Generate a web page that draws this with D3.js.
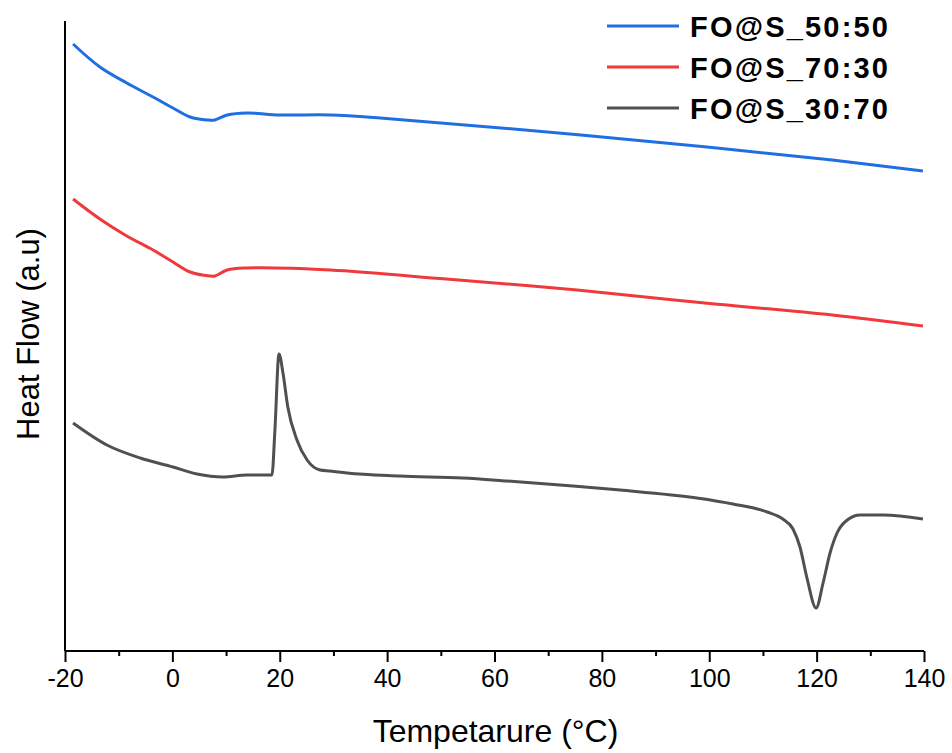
<!DOCTYPE html>
<html>
<head>
<meta charset="utf-8">
<script src="https://cdn.jsdelivr.net/npm/d3@7"></script>
<style>
  body { margin: 0; background: #fff; }
  svg { font-family: Arial, "Liberation Sans", sans-serif; }
</style>
</head>
<body>
<svg width="952" height="753"></svg>
<script>
// temperature (°C) / heat flow (a.u.)
var blueX = [-18.5, -13.5, -8.5, -3.6, 0.1, 3.3, 6.5, 7.9, 10.2, 13.9, 20, 29.4, 38.7, 76.1, 101.4, 122.9, 139.8];
var blueY = [60.7, 58.4, 56.8, 55.4, 54.3, 53.4, 53.1, 53.1, 53.6, 53.8, 53.6, 53.6, 53.3, 51.6, 50.3, 49.1, 48.0];

var redX = [-18.5, -13.5, -8.5, -3.6, 0.1, 3.3, 7.0, 7.9, 10.2, 13.9, 29.4, 51.0, 75.4, 99.2, 122.9, 139.8];
var redY = [45.2, 43.2, 41.5, 40.1, 38.9, 37.9, 37.5, 37.5, 38.1, 38.3, 38.1, 37.2, 36.1, 34.8, 33.6, 32.5];

var greyX = [-18.5, -12.2, -6.0, 0.1, 4.6, 9.4, 13.9, 18.55, 19.1, 19.86, 20.6, 21.5, 23.2, 25.1, 27.5, 29.4, 32.5, 42.4,
  54.1, 62.3, 74.6, 83.4, 97.7, 104.4, 110.8, 113.7, 115.6, 116.9, 118.2, 119.9, 121.2, 122.5, 123.8, 125.7, 128.1, 132.4, 139.8];
var greyY = [22.8, 20.6, 19.3, 18.4, 17.7, 17.4, 17.6, 17.6, 22.1, 29.7, 27.8, 24.4, 21.1, 19.1, 18.1, 18.0, 17.8, 17.5,
  17.3, 17.0, 16.5, 16.1, 15.3, 14.7, 13.9, 13.2, 12.2, 10.4, 7.3, 4.3, 6.8, 9.8, 11.8, 13.1, 13.6, 13.6, 13.2];

var seriesNames = ['FO@S_50:50', 'FO@S_70:30', 'FO@S_30:70'];
var seriesColors = ['#1f6fe3', '#f0393d', '#505050'];
var xTicks = [-20, 0, 20, 40, 60, 80, 100, 120, 140];

var svg = d3.select('svg'),
  margin = {top: 21, right: 28, bottom: 102, left: 65},
  width = +svg.attr('width') - margin.left - margin.right,
  height = +svg.attr('height') - margin.top - margin.bottom;

var x = d3.scaleLinear().domain([-20, 140]).range([0, width]),
    y = d3.scaleLinear().domain([0, 63]).range([height, 0]);

var g = svg.append('g')
    .attr('transform', 'translate(' + margin.left + ',' + margin.top + ')');

function zip(xs, ys) {
  return xs.map(function(v, i) { return {x: v, y: ys[i]}; });
}
var series = [zip(blueX, blueY), zip(redX, redY), zip(greyX, greyY)];
// smooth curves for the two flat traces, monotone for the one with sharp peaks
var curves = [d3.curveCatmullRom.alpha(0.5), d3.curveCatmullRom.alpha(0.5), d3.curveMonotoneX];

g.selectAll('.curve')
  .data(series)
  .enter().append('path')
  .attr('class', 'curve')
  .attr('fill', 'none')
  .attr('stroke', function(d, i) { return seriesColors[i]; })
  .attr('stroke-width', 3)
  .attr('stroke-linejoin', 'round')
  .attr('d', function(d, i) {
    return d3.line()
      .x(function(p) { return x(p.x); })
      .y(function(p) { return y(p.y); })
      .curve(curves[i])(d);
  });

// x axis: major ticks every 20, minor every 10
var xAxis = g.append('g')
    .attr('transform', 'translate(0,' + height + ')')
    .call(d3.axisBottom(x).tickValues(xTicks).tickSize(11).tickPadding(7).tickFormat(function(d) { return String(d); }));
xAxis.append('g')
    .call(d3.axisBottom(x).tickValues(d3.range(-10, 140, 20)).tickSize(5).tickFormat(''))
    .select('.domain').remove();
xAxis.selectAll('path, line').attr('stroke', '#000').attr('stroke-width', 2);
xAxis.select('.domain').attr('d', 'M0,0H' + width);
xAxis.selectAll('text').attr('font-size', 25).attr('fill', '#000').attr('font-family', 'Arial, "Liberation Sans", sans-serif');

// y axis: bare spine
g.append('line')
  .attr('x1', 0).attr('x2', 0).attr('y1', 0).attr('y2', height)
  .attr('stroke', '#000').attr('stroke-width', 2);

svg.append('text')
  .attr('x', margin.left + width / 2 + 1)
  .attr('y', 742)
  .attr('text-anchor', 'middle')
  .attr('font-size', 32)
  .text('Tempetarure (°C)');

svg.append('text')
  .attr('transform', 'translate(39,334) rotate(-90)')
  .attr('text-anchor', 'middle')
  .attr('font-size', 31)
  .text('Heat Flow (a.u)');

// legend
var legend = svg.append('g').attr('transform', 'translate(607,26)');
var item = legend.selectAll('g')
  .data(seriesNames)
  .enter().append('g')
  .attr('transform', function(d, i) { return 'translate(0,' + (i * 41) + ')'; });
item.append('line')
  .attr('x1', 0).attr('x2', 72)
  .attr('stroke', function(d, i) { return seriesColors[i]; })
  .attr('stroke-width', 3);
item.append('text')
  .attr('x', 83)
  .attr('y', 11)
  .attr('font-size', 29)
  .attr('font-weight', 'bold')
  .attr('letter-spacing', 2.2)
  .text(function(d) { return d; });
</script>
</body>
</html>
